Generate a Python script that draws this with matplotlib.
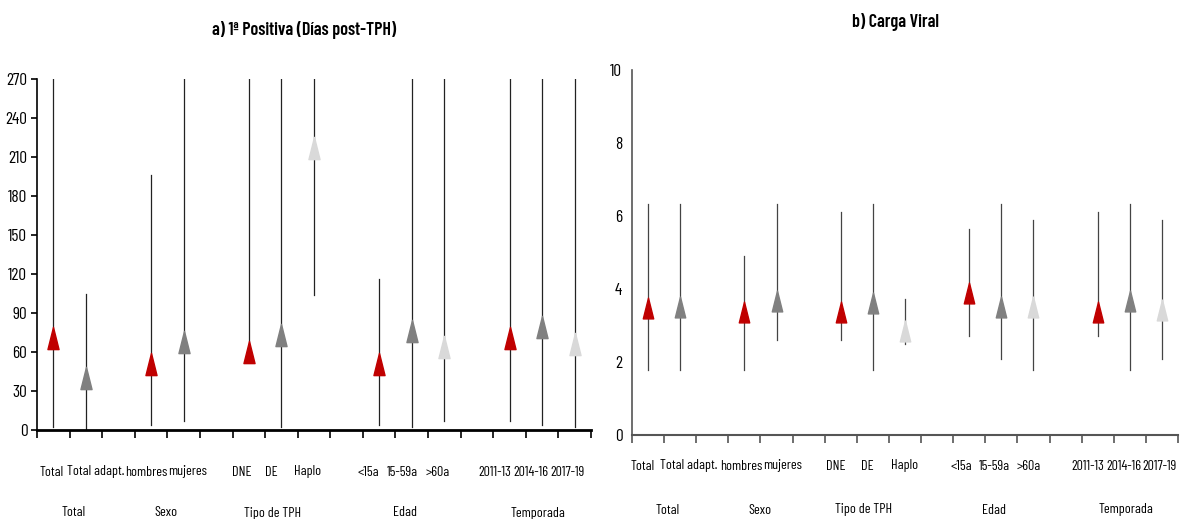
import matplotlib
matplotlib.use("Agg")
import matplotlib.pyplot as plt
from matplotlib.path import Path
from matplotlib import font_manager as fm

# ---------------- data ----------------
groups = ["Total", "Sexo", "Tipo de TPH", "Edad", "Temporada"]
group_members = [
    ["Total", "Total adapt."],
    ["hombres", "mujeres"],
    ["DNE", "DE", "Haplo"],
    ["<15a", "15-59a", ">60a"],
    ["2011-13", "2014-16", "2017-19"],
]
# a) 1ª positiva (días post-TPH)
pos_median = [71, 40, 51, 68, 60, 73, 217, 51, 76, 64, 71, 79, 66]
pos_low    = [2.5, 0, 4, 7, 55, 2.5, 104, 4, 2.5, 7, 7, 4, 2.5]
pos_high   = [270, 105, 196, 270, 270, 270, 270, 116, 270, 270, 270, 270, 270]
# b) carga viral
cv_median = [3.47, 3.52, 3.36, 3.68, 3.36, 3.63, 2.86, 3.90, 3.52, 3.52, 3.36, 3.68, 3.42]
cv_low    = [1.78, 1.78, 1.78, 2.60, 2.60, 1.78, 2.49, 2.71, 2.07, 1.78, 2.71, 1.78, 2.07]
cv_high   = [6.33, 6.33, 4.90, 6.33, 6.12, 6.33, 3.72, 5.64, 6.33, 5.90, 6.12, 6.33, 5.90]

# ---------------- style ----------------
RED, GRAY, LIGHT = "#C00000", "#808080", "#D9D9D9"
member_colors = [RED, GRAY, RED, GRAY, RED, GRAY, LIGHT, RED, GRAY, LIGHT, RED, GRAY, LIGHT]
# horizontal label nudges in pixels (category-axis label placement)
nudge_left = [-2, 10, -5, 4, -7, -10, -6, -11, -9, -7, -15, -11, -7]
nudge_right = [-5, 9, -3, 6, -5, -6, 0, -8, -7, -5, -10, -6, -2]
group_nudge = [4, -1, -9, -7, -4]

avail = {f.name for f in fm.fontManager.ttflist}
prefs = ["Barlow Condensed", "Roboto Condensed", "Asap Condensed", "Archivo Narrow"]
chosen = next((p for p in prefs if p in avail), None)
FAM = [chosen, "DejaVu Sans"] if chosen else ["DejaVu Sans"]
plt.rcParams["font.family"] = FAM

tri = Path([(-0.25, -0.5), (0.25, -0.5), (0, 0.5), (-0.25, -0.5)],
           [Path.MOVETO, Path.LINETO, Path.LINETO, Path.CLOSEPOLY])

# slot positions (one empty slot between groups)
positions, labels, group_centers = [], [], []
slot = 0
for members in group_members:
    start = slot
    for m in members:
        positions.append(slot)
        labels.append(m)
        slot += 1
    group_centers.append((start + slot - 1) / 2)
    slot += 1
nslots = slot - 1  # 17

fig = plt.figure(figsize=(11.82, 5.19), dpi=100)
axL = fig.add_axes([37/1182, 1-430/519, (591-37)/1182, (430-79)/519])
axR = fig.add_axes([632/1182, 1-435/519, (1178-632)/1182, (435-70)/519])


def draw(ax, med, lo, hi, ylim, yticks, msize, lcol, spine_col, spine_w,
         ylen, ypad, lab_off, grp_off, nudges):
    for x, m, l, h, c in zip(positions, med, lo, hi, member_colors):
        ax.plot([x, x], [l, h], color=lcol, lw=0.9, zorder=2)
        ax.plot([x], [m], marker=tri, markersize=msize, color=c,
                markeredgecolor=c, linestyle="none", zorder=3)
    ax.set_xlim(-0.5, nslots - 0.5)
    ax.set_ylim(*ylim)
    ax.set_yticks(yticks)
    ax.set_xticks([i - 0.5 for i in range(nslots + 1)])
    ax.set_xticklabels([])
    for s in ["top", "right"]:
        ax.spines[s].set_visible(False)
    ax.spines["bottom"].set_color(spine_col)
    ax.spines["bottom"].set_linewidth(spine_w)
    ax.spines["left"].set_color(spine_col)
    ax.spines["left"].set_linewidth(1.2)
    ax.tick_params(axis="x", length=6, width=1.2, color=spine_col, direction="out")
    ax.tick_params(axis="y", length=ylen, width=1.2, color=spine_col,
                   labelsize=12.5, pad=ypad)
    trans = ax.get_xaxis_transform()
    for x, lab, dx in zip(positions, labels, nudges):
        ax.annotate(lab, (x, 0), xycoords=trans, xytext=(dx, -lab_off),
                    textcoords="offset pixels", ha="center", va="center",
                    fontsize=10.2, annotation_clip=False)
    for x, g, dx in zip(group_centers, groups, group_nudge):
        ax.annotate(g, (x, 0), xycoords=trans, xytext=(dx, -grp_off),
                    textcoords="offset pixels", ha="center", va="center",
                    fontsize=10.2, annotation_clip=False)


draw(axL, pos_median, pos_low, pos_high, (0, 270), range(0, 271, 30),
     16, "#222222", "black", 2.0, 4, 3, 42, 83, nudge_left)
draw(axR, cv_median, cv_low, cv_high, (0, 10), range(0, 11, 2),
     15, "#444444", "#555555", 1.5, 0, 7, 31, 75, nudge_right)

fig.text(304/1182, 1-30/519, "a) 1ª Positiva (Días post-TPH)", ha="center",
         va="center", fontsize=13, fontweight="semibold")
fig.text(896/1182, 1-22/519, "b) Carga Viral", ha="center",
         va="center", fontsize=13, fontweight="semibold")

fig.savefig("out.png", dpi=100)
